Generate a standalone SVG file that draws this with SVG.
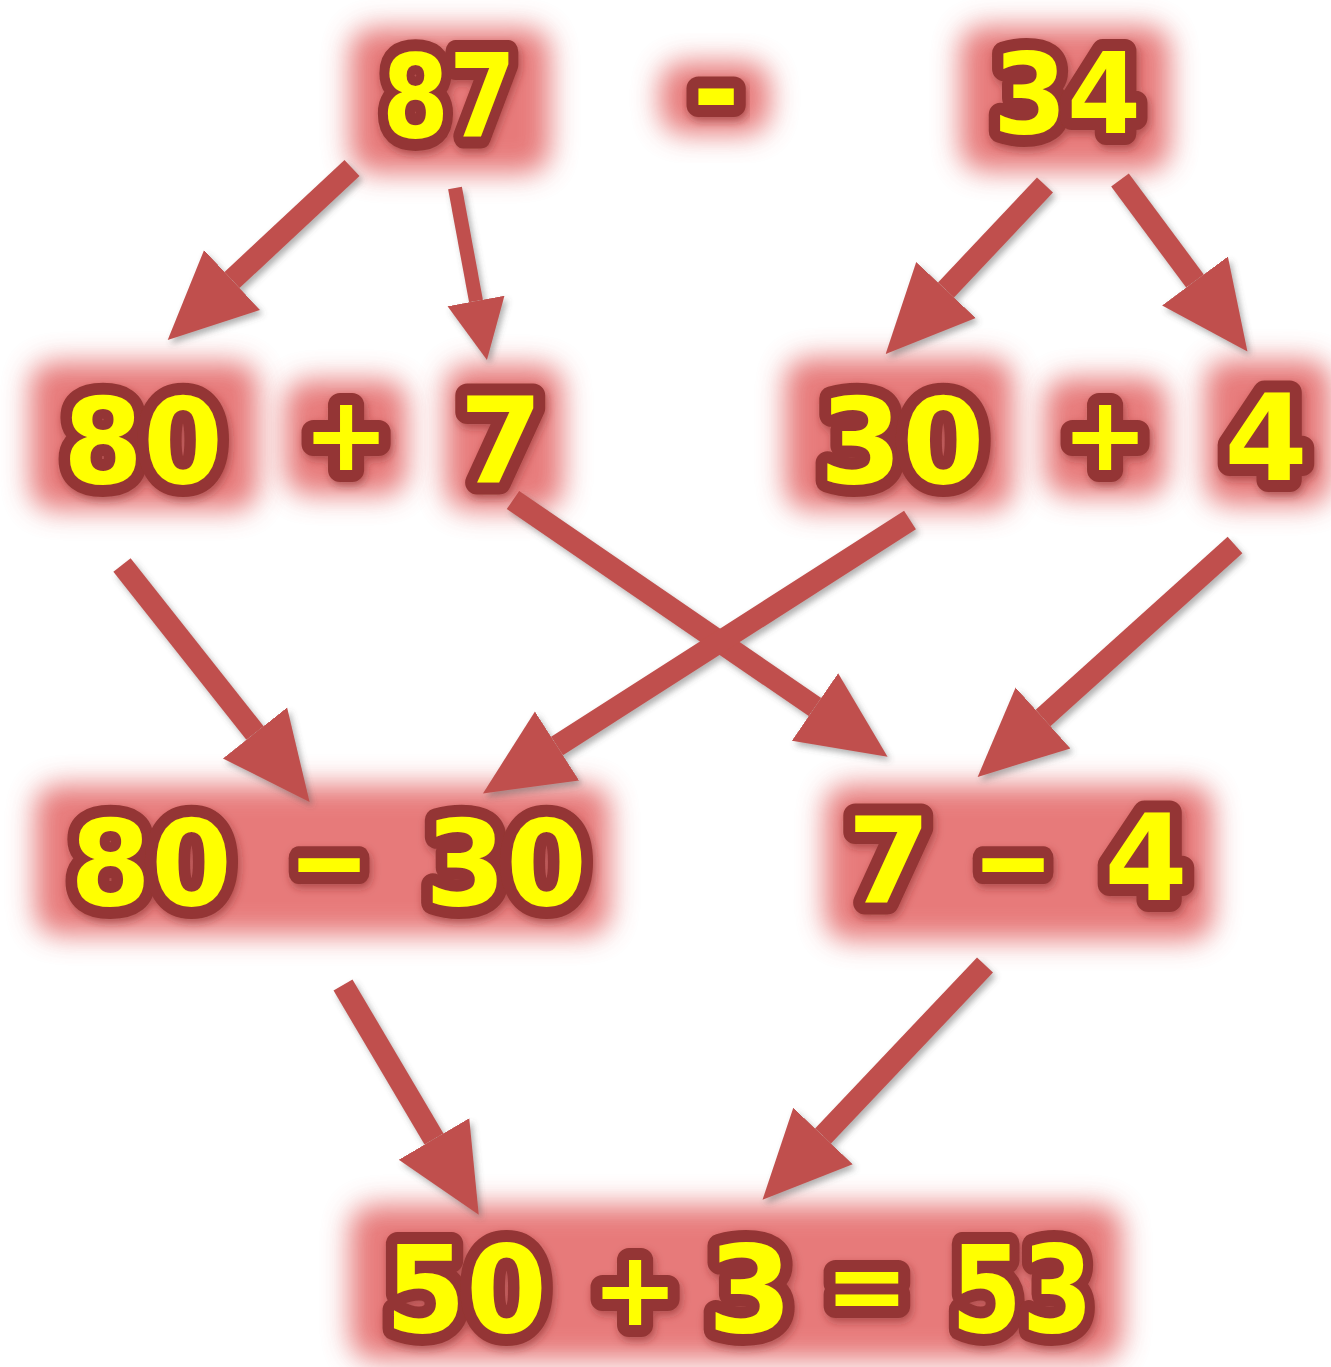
<svg xmlns="http://www.w3.org/2000/svg" width="1331" height="1367" viewBox="0 0 1331 1367">
<defs>
<filter id="glow" x="-40%" y="-40%" width="180%" height="180%"><feGaussianBlur stdDeviation="14"/></filter>
<filter id="shadow" x="-20%" y="-20%" width="140%" height="140%"><feDropShadow dx="3" dy="4" stdDeviation="3" flood-color="#555" flood-opacity="0.45"/></filter>
<filter id="tshadow" x="-20%" y="-20%" width="140%" height="140%"><feDropShadow dx="2" dy="4" stdDeviation="4" flood-color="#7a2020" flood-opacity="0.5"/></filter>
<marker id="head" markerUnits="userSpaceOnUse" markerWidth="90" markerHeight="90" viewBox="0 -42 88 84" refX="0" refY="0" orient="auto"><path d="M0,-40 L86,0 L0,40 z" fill="#c0504d"/></marker>
<marker id="headS" markerUnits="userSpaceOnUse" markerWidth="62" markerHeight="62" viewBox="0 -30 60 60" refX="0" refY="0" orient="auto"><path d="M0,-28 L58,0 L0,28 z" fill="#c0504d"/></marker>
<style>
.g{fill:#e36464;opacity:0.85;filter:url(#glow)}
.t{font-family:"DejaVu Sans",sans-serif;font-weight:bold;fill:#ffff00;stroke:#943634;stroke-width:24;stroke-linejoin:round;paint-order:stroke;text-anchor:middle;filter:url(#tshadow)}
.a{stroke:#c0504d;stroke-width:22;fill:none;marker-end:url(#head)}
</style>
</defs>
<rect width="1331" height="1367" fill="#ffffff"/>
<g id="glows">
<rect class="g" x="350" y="28" width="200" height="145" rx="24"/>
<rect class="g" x="660" y="62" width="110" height="72" rx="24"/>
<rect class="g" x="960" y="26" width="210" height="145" rx="24"/>
<rect class="g" x="30" y="362" width="228" height="148" rx="24"/>
<rect class="g" x="285" y="380" width="122" height="115" rx="24"/>
<rect class="g" x="445" y="365" width="118" height="145" rx="24"/>
<rect class="g" x="785" y="358" width="228" height="152" rx="24"/>
<rect class="g" x="1045" y="378" width="122" height="118" rx="24"/>
<rect class="g" x="1205" y="360" width="126" height="145" rx="24"/>
<rect class="g" x="35" y="785" width="575" height="150" rx="24"/>
<rect class="g" x="825" y="785" width="388" height="155" rx="24"/>
<rect class="g" x="350" y="1205" width="772" height="155" rx="24"/>
</g>
<g id="connectors" filter="url(#shadow)">
<line class="a" x1="352" y1="168" x2="232" y2="280"/>
<line x1="455" y1="188" x2="476" y2="301" stroke="#c0504d" stroke-width="14" marker-end="url(#headS)"/>
<line class="a" x1="1045" y1="185" x2="946" y2="290"/>
<line class="a" x1="1120" y1="180" x2="1195" y2="281"/>
<line class="a" x1="513" y1="500" x2="815" y2="707"/>
<line class="a" x1="910" y1="520" x2="557" y2="746"/>
<line class="a" x1="122" y1="565" x2="255" y2="733"/>
<line class="a" x1="1235" y1="545" x2="1043" y2="718"/>
<line class="a" x1="343" y1="985" x2="434" y2="1139"/>
<line class="a" x1="985" y1="965" x2="823" y2="1136"/>
</g>
<g id="n87"><text class="t" x="449" y="137" font-size="115" textLength="134" lengthAdjust="spacingAndGlyphs">87</text></g>
<g id="nMinus"><text class="t" x="716" y="130" font-size="115">-</text></g>
<g id="n34"><text class="t" x="1067" y="133" font-size="112" textLength="148" lengthAdjust="spacingAndGlyphs">34</text></g>
<g id="n80"><text class="t" x="143" y="483" font-size="120" textLength="160" lengthAdjust="spacingAndGlyphs">80</text></g>
<g id="nPlusA"><text class="t" x="346" y="470" font-size="104">+</text></g>
<g id="n7"><text class="t" x="501" y="483" font-size="120">7</text></g>
<g id="n30"><text class="t" x="902" y="483" font-size="120" textLength="165" lengthAdjust="spacingAndGlyphs">30</text></g>
<g id="nPlusB"><text class="t" x="1105" y="470" font-size="104">+</text></g>
<g id="n4"><text class="t" x="1266" y="480" font-size="120">4</text></g>
<g id="n80minus30">
<text class="t" x="151" y="905" font-size="120" textLength="162" lengthAdjust="spacingAndGlyphs">80</text>
<text class="t" x="329" y="903" font-size="120" textLength="82" lengthAdjust="spacingAndGlyphs">−</text>
<text class="t" x="506" y="905" font-size="120" textLength="162" lengthAdjust="spacingAndGlyphs">30</text>
</g>
<g id="n7minus4">
<text class="t" x="889" y="903" font-size="120">7</text>
<text class="t" x="1013" y="903" font-size="120" textLength="82" lengthAdjust="spacingAndGlyphs">−</text>
<text class="t" x="1146" y="900" font-size="120">4</text>
</g>
<g id="nResult">
<text class="t" x="466" y="1332" font-size="122" textLength="162" lengthAdjust="spacingAndGlyphs">50</text>
<text class="t" x="635" y="1325" font-size="104">+</text>
<text class="t" x="750" y="1332" font-size="122">3</text>
<text class="t" x="867" y="1320" font-size="100">=</text>
<text class="t" x="1022" y="1332" font-size="122" textLength="142" lengthAdjust="spacingAndGlyphs">53</text>
</g>
</svg>
